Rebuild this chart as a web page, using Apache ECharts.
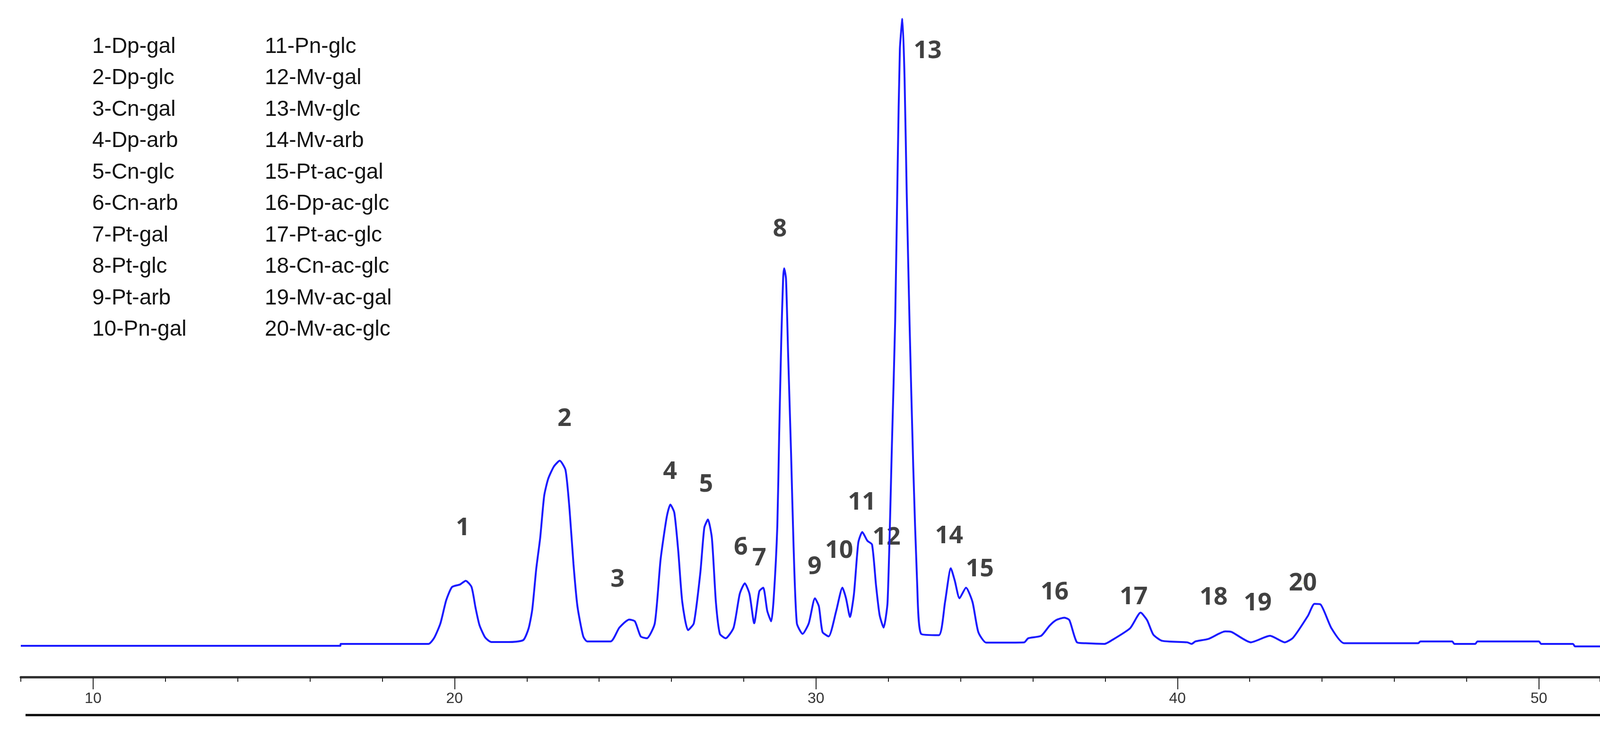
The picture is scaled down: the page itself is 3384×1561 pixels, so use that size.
<!DOCTYPE html>
<html><head><meta charset="utf-8">
<script src="https://cdn.jsdelivr.net/npm/echarts@6/dist/echarts.min.js"></script>
<style>html,body{margin:0;padding:0;background:#fff}#c{width:3384px;height:1561px}</style>
</head><body><div id="c"></div>
<script>
// retention time (min)
const times = [8,16.84,16.85,19.28,19.44,19.61,19.77,19.93,20.15,20.31,20.47,20.58,20.69,20.85,21.02,21.5,21.9,22.05,22.15,22.26,22.37,22.48,22.59,22.75,22.91,23.07,23.18,23.29,23.4,23.56,23.67,24.32,24.56,24.83,24.99,25.15,25.32,25.54,25.7,25.87,25.97,26.08,26.19,26.3,26.46,26.62,26.8,26.91,27.01,27.12,27.23,27.34,27.5,27.72,27.89,28.03,28.16,28.29,28.43,28.54,28.65,28.76,28.83,28.93,28.98,29.04,29.09,29.12,29.17,29.23,29.31,29.38,29.47,29.63,29.8,29.97,30.08,30.18,30.35,30.56,30.73,30.83,30.94,31.05,31.17,31.28,31.42,31.55,31.66,31.76,31.87,31.98,32.1,32.19,32.26,32.32,32.39,32.45,32.51,32.59,32.69,32.8,32.91,33.4,33.57,33.73,33.84,33.97,34.15,34.33,34.49,34.71,35.76,35.87,36.23,36.46,36.64,36.87,37.01,37.22,37.46,37.98,38.16,38.69,38.98,39.16,39.33,39.57,40.27,40.39,40.5,40.86,41.32,41.5,42.03,42.56,42.97,43.2,43.61,43.79,43.96,44.26,44.61,46.66,46.72,47.6,47.66,48.24,48.3,50.0,50.06,50.94,51.0,51.7];
// detector signal (relative, peak 13 = 100)
const signal = [-0.3,-0.3,0,0,1.0,3.3,7.0,9.1,9.5,10.1,9.1,5.8,3.0,1.0,0.3,0.3,0.6,2.5,5.5,12,17,23.7,26.4,28.4,29.3,27.8,21.6,12.8,6.0,1.2,0.4,0.4,2.6,3.9,3.6,1.2,0.9,3.3,13.5,20.3,22.3,21.0,14.8,6.7,2.2,3.3,11.4,18.6,19.9,16.9,6.7,1.6,0.9,2.6,8.0,9.7,8.0,3.3,8.4,9.0,5.3,3.6,7.3,18.9,33.2,48.8,58.4,60.1,58.4,46.1,30.5,15.5,3.3,1.6,3.3,7.3,6.0,1.9,1.2,5.3,9.0,7.3,4.3,8.0,16.2,17.9,16.5,15.9,9.4,4.6,2.6,6.7,31.8,51.6,76.7,95.1,100,90.5,72.0,50.9,28.4,9.4,1.6,1.4,6.7,12.1,10.1,7.3,9.0,6.7,1.9,0.2,0.25,0.9,1.3,2.9,3.8,4.2,3.8,0.25,0.1,0,0.5,2.5,5.0,3.8,1.5,0.5,0.25,0,0.4,0.8,2.0,1.9,0.25,1.3,0.25,1.0,4.5,6.4,6.3,2.5,0.1,0.1,0.4,0.4,0,0,0.4,0.4,0,0,-0.4,-0.4];
const peakNames = ['1','2','3','4','5','6','7','8','9','10','11','12','13','14','15','16','17','18','19','20'];
const labelTimes = [20.23,23.04,24.51,25.96,26.96,27.92,28.43,29.0,29.96,30.64,31.27,31.95,33.09,33.68,34.53,36.6,38.79,41.0,42.22,43.47];
const labelLevels = [18.5,36.0,10.3,27.5,25.5,15.4,13.7,66.3,12.3,14.9,22.6,17.0,94.8,17.2,11.9,8.2,7.5,7.4,6.5,9.7];
const legendCol1 = ['1-Dp-gal','2-Dp-glc','3-Cn-gal','4-Dp-arb','5-Cn-glc','6-Cn-arb','7-Pt-gal','8-Pt-glc','9-Pt-arb','10-Pn-gal'];
const legendCol2 = ['11-Pn-glc','12-Mv-gal','13-Mv-glc','14-Mv-arb','15-Pt-ac-gal','16-Dp-ac-glc','17-Pt-ac-glc','18-Cn-ac-glc','19-Mv-ac-gal','20-Mv-ac-glc'];
const xTicks = [10,20,30,40,50];

const chart = echarts.init(document.getElementById('c'));
const graphics = [];
legendCol1.forEach((t,i)=>graphics.push({type:'text',left:195,top:76+i*66.5,style:{text:t,font:'46px "Liberation Sans", Arial',fill:'#111'}}));
legendCol2.forEach((t,i)=>graphics.push({type:'text',left:560,top:76+i*66.5,style:{text:t,font:'46px "Liberation Sans", Arial',fill:'#111'}}));
graphics.push({type:'rect',shape:{x:54,y:1510,width:3330,height:5},style:{fill:'#111'}});
chart.setOption({
  animation:false,
  grid:{left:44,right:0,top:13.5,bottom:129},
  xAxis:[{type:'value',min:8,max:51.69,interval:2,
    axisLine:{onZero:false,lineStyle:{color:'#333',width:5}},
    axisTick:{customValues:xTicks,length:26,lineStyle:{color:'#222',width:2}},
    axisLabel:{fontSize:32,color:'#333',margin:30,fontFamily:'"Liberation Sans Narrow","Liberation Sans",Arial',
      customValues:xTicks},
    splitLine:{show:false}},
   {type:'value',min:8,max:51.69,interval:2,position:'bottom',
    axisLine:{show:false,onZero:false},
    axisTick:{length:10,lineStyle:{color:'#222',width:2}},
    axisLabel:{show:false},splitLine:{show:false}}],
  yAxis:{type:'value',min:-5.3,max:102,show:false,splitLine:{show:false}},
  graphic:graphics,
  series:[
    {type:'line',data:times.map((t,i)=>[t,signal[i]]),symbol:'none',smooth:0.2,
     lineStyle:{color:'#1a1aff',width:4}},
    {type:'scatter',symbolSize:0,data:labelTimes.map((t,i)=>[t,labelLevels[i],peakNames[i]]),
     label:{show:true,position:'inside',formatter:p=>p.data[2],fontSize:52,fontWeight:'bold',color:'#111',fontFamily:'"Open Sans","Noto Sans",sans-serif'}}
  ]
});
</script></body></html>
